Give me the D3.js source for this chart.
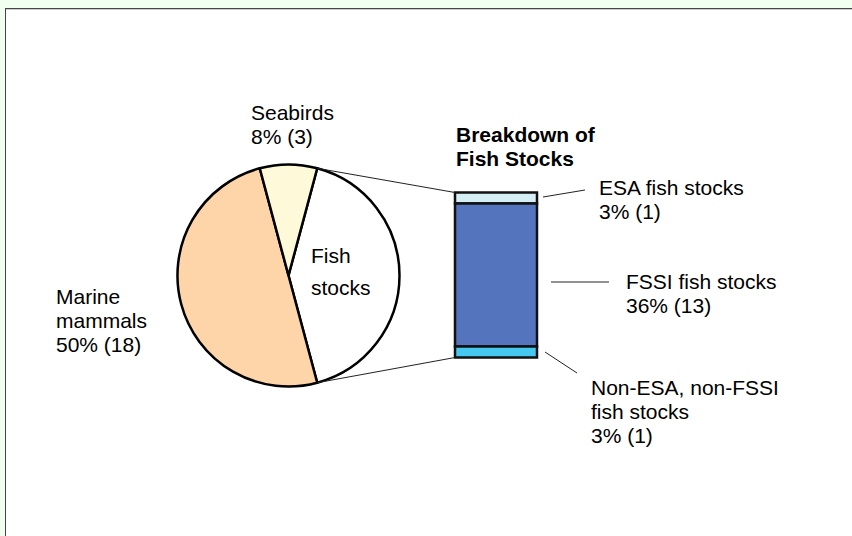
<!DOCTYPE html>
<html>
<head>
<meta charset="utf-8">
<script src="https://cdn.jsdelivr.net/npm/d3@7"></script>
<style>
html,body{margin:0;padding:0;background:#F0FFF0;}
svg{display:block;font-family:"Liberation Sans",Arial,sans-serif;}
</style>
</head>
<body>
<svg id="chart" width="852" height="536"></svg>
<script>
// ---- data ----
const pieCategories = ["Fish stocks", "Marine mammals", "Seabirds"];
const pieCounts = [15, 18, 3];
const pieColors = ["#FFFFFF", "#FDD5A9", "#FEF9D9"];

const barCategories = ["ESA fish stocks", "FSSI fish stocks", "Non-ESA, non-FSSI fish stocks"];
const barCounts = [1, 13, 1];
const barColors = ["#D5EEF6", "#5475BE", "#45C8EF"];

const chartTitle = ["Breakdown of", "Fish Stocks"];

const total = d3.sum(pieCounts);
const pct = v => Math.round(v / total * 100) + "% (" + v + ")";

const svg = d3.select("#chart");

// panel
svg.append("rect").attr("x", 5.5).attr("y", 8.5).attr("width", 900).attr("height", 600)
  .attr("fill", "#fff").attr("stroke", "#444").attr("stroke-width", 1);
svg.append("line").attr("x1", 6).attr("x2", 852).attr("y1", 9.5).attr("y2", 9.5)
  .attr("stroke", "#ccc").attr("stroke-width", 1);

// ---- pie ----
const cx = 288.5, cy = 275.5, R = 111;
const pie = d3.pie().sort(null).value(d => d.v)
  .startAngle(Math.PI / 12).endAngle(Math.PI / 12 + 2 * Math.PI);
const pieData = pie(pieCategories.map((c, i) => ({ c, v: pieCounts[i], col: pieColors[i] })));
const arc = d3.arc().innerRadius(0).outerRadius(R);
const g = svg.append("g").attr("transform", `translate(${cx},${cy})`);
g.selectAll("path").data(pieData).join("path")
  .attr("d", arc).attr("fill", d => d.data.col)
  .attr("stroke", "#000").attr("stroke-width", 2.5).attr("stroke-linejoin", "round");

// ---- bar ----
const barX0 = 455, barX1 = 537;
const y = d3.scaleLinear().domain([0, d3.sum(barCounts)]).range([192.5, 357.5]);
let acc = 0;
const segs = barCategories.map((c, i) => {
  const s = { c, v: barCounts[i], col: barColors[i], y0: acc, y1: acc + barCounts[i] };
  acc += barCounts[i];
  return s;
});
svg.append("g").selectAll("rect").data(segs).join("rect")
  .attr("x", barX0).attr("width", barX1 - barX0)
  .attr("y", d => y(d.y0)).attr("height", d => y(d.y1) - y(d.y0))
  .attr("fill", d => d.col).attr("stroke", "#111").attr("stroke-width", 2.5);

// connectors from fish slice edges to bar corners
const fish = pieData[0];
const ptAt = a => [cx + R * Math.sin(a), cy - R * Math.cos(a)];
const pTop = ptAt(fish.startAngle), pBot = ptAt(fish.endAngle);
svg.append("line").attr("x1", pTop[0]).attr("y1", pTop[1]).attr("x2", barX0).attr("y2", y(0))
  .attr("stroke", "#222").attr("stroke-width", 1);
svg.append("line").attr("x1", pBot[0]).attr("y1", pBot[1]).attr("x2", barX0).attr("y2", y(d3.sum(barCounts)))
  .attr("stroke", "#222").attr("stroke-width", 1);

// ---- text ----
function multi(x, y0, lines, opts = {}) {
  const t = svg.append("text").attr("x", x).attr("y", y0)
    .attr("font-size", opts.size || 21).attr("fill", "#000")
    .attr("font-weight", opts.bold ? "bold" : "normal");
  lines.forEach((l, i) => t.append("tspan").attr("x", x).attr("y", y0 + i * (opts.lh || 24)).text(l));
}
multi(251, 120, [pieCategories[2], pct(pieCounts[2])]);
multi(56, 304, ["Marine", "mammals", pct(pieCounts[1])]);
multi(311, 263, ["Fish", "stocks"], { lh: 32 });
multi(456, 141.5, chartTitle, { bold: true, size: 21 });

multi(599, 195, [barCategories[0], pct(barCounts[0])]);
multi(626, 289, [barCategories[1], pct(barCounts[1])]);
multi(591, 395, ["Non-ESA, non-FSSI", "fish stocks", pct(barCounts[2])]);

// leader lines
const leaders = [[543, 197, 585, 190], [551, 282, 609, 282], [545, 352, 577, 373]];
svg.append("g").selectAll("line").data(leaders).join("line")
  .attr("x1", d => d[0]).attr("y1", d => d[1]).attr("x2", d => d[2]).attr("y2", d => d[3])
  .attr("stroke", "#222").attr("stroke-width", 1);
</script>
</body>
</html>
